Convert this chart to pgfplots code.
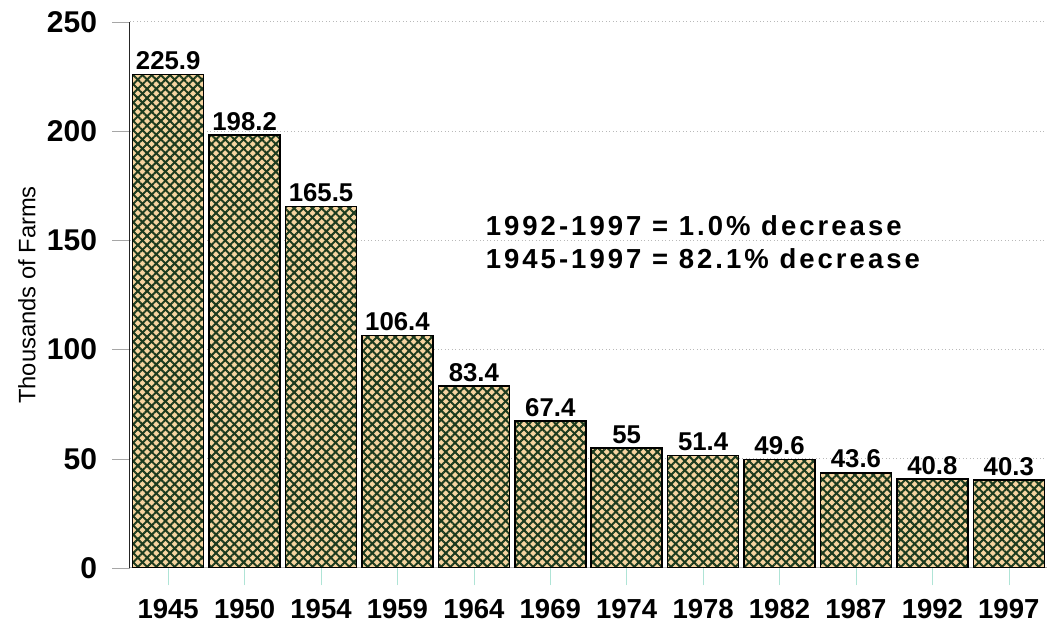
\documentclass[border=0pt]{standalone}
\usepackage{fontspec}
\setmainfont{Liberation Sans}
\usepackage{pgfplots}
\pgfplotsset{compat=1.18}
\usetikzlibrary{patterns.meta}

\definecolor{tan}{RGB}{246,212,160}
\definecolor{hatch}{RGB}{28,58,30}
\definecolor{xtickc}{RGB}{175,228,214}

\begin{document}
\begin{tikzpicture}
\begin{axis}[
  at={(0,0)}, anchor=south west,
  scale only axis, width=366.8pt, height=218.4pt,
  xmin=-0.5, xmax=11.5, ymin=0, ymax=250,
  axis lines=left,
  axis line style={-},
  x axis line style={draw=gray!60},
  y axis line style={draw=black!85},
  ybar, bar width=0.93,
  ytick={0,50,...,250},
  xtick={0,...,11},
  xticklabels={1945,1950,1954,1959,1964,1969,1974,1978,1982,1987,1992,1997},
  tick align=outside,
  major tick length=7pt,
  ytick style={draw=gray!70},
  xtick style={draw=xtickc},
  ymajorgrids,
  grid style={densely dotted, draw=gray!55},
  /pgf/number format/assume math mode=true,
  yticklabel style={font=\fontsize{12}{14}\bfseries, inner sep=1pt, xshift=-5pt},
  xticklabel style={font=\fontsize{11}{13}\bfseries, yshift=-2pt},
  ylabel={Thousands of Farms},
  ylabel style={font=\fontsize{9.5}{11}\selectfont},
  nodes near coords,
  point meta=explicit symbolic,
  nodes near coords style={font=\fontsize{10.3}{12}\bfseries, inner sep=1.5pt},
]
  \addplot[draw=black, line width=0.6pt, fill=tan,
    postaction={pattern={Lines[angle=45,distance=2.6pt,line width=0.8pt]}, pattern color=hatch},
    postaction={pattern={Lines[angle=-45,distance=2.6pt,line width=0.8pt]}, pattern color=hatch}]
  coordinates {(0,225.9)[225.9] (1,198.2)[198.2] (2,165.5)[165.5] (3,106.4)[106.4]
    (4,83.4)[83.4] (5,67.4)[67.4] (6,55)[55] (7,51.4)[51.4] (8,49.6)[49.6]
    (9,43.6)[43.6] (10,40.8)[40.8] (11,40.3)[40.3]};
  \node[anchor=west, align=left, font=\fontsize{11}{13.2}\bfseries\addfontfeatures{LetterSpace=11}]
    at (axis cs:4.04,149) {1992-1997 = 1.0\% decrease\\1945-1997 = 82.1\% decrease};
\end{axis}
\pgfresetboundingbox
\path (-52pt,-21.6pt) rectangle (366.8pt,227.2pt);
\end{tikzpicture}
\end{document}
